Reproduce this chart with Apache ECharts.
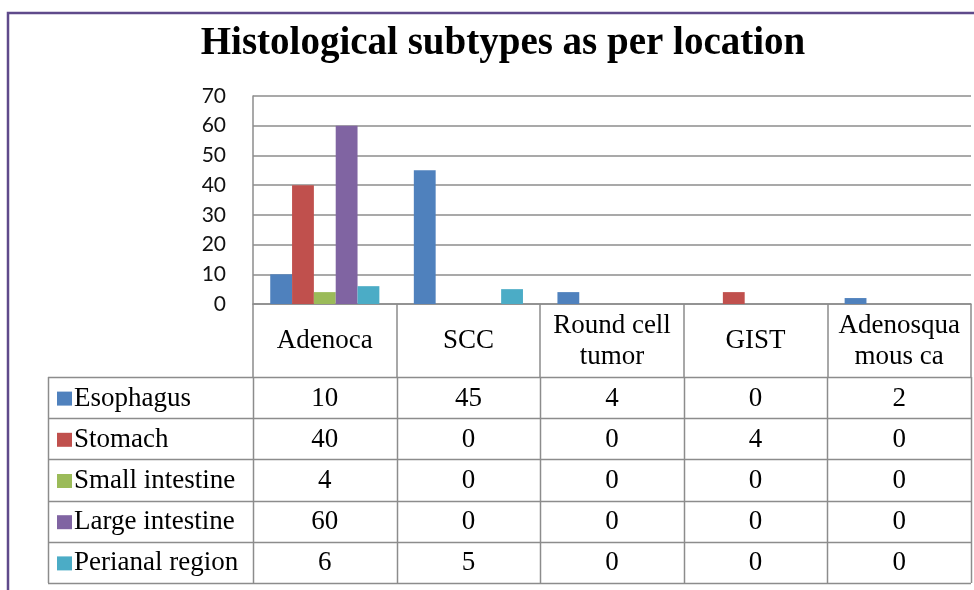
<!DOCTYPE html>
<html>
<head>
<meta charset="utf-8">
<script src="https://cdn.jsdelivr.net/npm/echarts@6/dist/echarts.min.js"></script>
<style>
    html, body { margin: 0; padding: 0; background: #fff; }
    #chart { width: 974px; height: 590px; }
</style>
</head>
<body>
<div id="chart"></div>
<script>
const categories = ['Adenoca', 'SCC', 'Round cell\ntumor', 'GIST', 'Adenosqua\nmous ca'];
const seriesNames = ['Esophagus', 'Stomach', 'Small intestine', 'Large intestine', 'Perianal region'];
const esophagus = [10, 45, 4, 0, 2];
const stomach = [40, 0, 0, 4, 0];
const smallIntestine = [4, 0, 0, 0, 0];
const largeIntestine = [60, 0, 0, 0, 0];
const perianal = [6, 5, 0, 0, 0];
const yTicks = [0, 10, 20, 30, 40, 50, 60, 70];

const seriesValues = [esophagus, stomach, smallIntestine, largeIntestine, perianal];
const colors = ['#4F81BD', '#C0504D', '#9BBB59', '#8064A2', '#4BACC6'];

// layout
const gridLeft = 253, gridRight = 971, gridTop = 96, gridBottom = 304;
const headerBottom = 377, tableBottom = 583, tableLeft = 48;
const lineColor = '#8c8c8c';
const serif = 'Liberation Serif, Times New Roman, serif';
const tableFontSize = 27;

const chart = echarts.init(document.getElementById('chart'));

const catW = (gridRight - gridLeft) / categories.length;
const rowH = (tableBottom - headerBottom) / seriesNames.length;
const graphics = [];

// outer purple frame (top and left)
graphics.push({
    type: 'polyline',
    shape: { points: [[8, 590], [8, 13], [974, 13]] },
    style: { stroke: '#5f4a8b', lineWidth: 2.5, fill: null }
});

// horizontal table lines
for (let r = 0; r <= seriesNames.length; r++) {
    const y = Math.round(headerBottom + r * rowH) + 0.5;
    graphics.push({
        type: 'line',
        shape: { x1: tableLeft, y1: y, x2: gridRight, y2: y },
        style: { stroke: lineColor, lineWidth: 1.5 }
    });
}
// vertical table lines
const vx = [tableLeft];
for (let c = 0; c <= categories.length; c++) vx.push(gridLeft + c * catW);
vx.forEach(function (x) {
    graphics.push({
        type: 'line',
        shape: { x1: Math.round(x) + 0.5, y1: headerBottom, x2: Math.round(x) + 0.5, y2: tableBottom },
        style: { stroke: lineColor, lineWidth: 1.5 }
    });
});

// main category axis (header row of the data table)
const xAxes = [{
    type: 'category',
    data: categories,
    axisLine: { show: true, lineStyle: { color: lineColor, width: 1.5 } },
    axisTick: {
        show: true,
        length: headerBottom - gridBottom,
        interval: 0,
        lineStyle: { color: lineColor, width: 1.5 }
    },
    axisLabel: {
        interval: 0,
        margin: 37,
        verticalAlign: 'middle',
        align: 'center',
        color: '#000',
        fontSize: tableFontSize,
        lineHeight: 31,
        fontFamily: serif
    }
}];

// one hidden axis per table row, carrying the values and the row name
seriesNames.forEach(function (name, r) {
    const cy = headerBottom + (r + 0.5) * rowH + 1;
    xAxes.push({
        type: 'category',
        data: categories,
        position: 'bottom',
        offset: cy - gridBottom,
        axisLine: { show: false },
        axisTick: { show: false },
        axisLabel: {
            interval: 0,
            margin: 0,
            verticalAlign: 'middle',
            align: 'center',
            color: '#000',
            fontSize: tableFontSize,
            fontFamily: serif,
            formatter: function (v, idx) { return String(seriesValues[r][idx]); }
        },
        name: '{sq|}{t|' + name + '}',
        nameLocation: 'start',
        nameGap: gridLeft - 57,
        nameTextStyle: {
            align: 'left',
            verticalAlign: 'middle',
            rich: {
                sq: { width: 15, height: 14, backgroundColor: colors[r] },
                t: { fontFamily: serif, fontSize: tableFontSize, color: '#000', padding: [0, 0, 0, 2] }
            }
        }
    });
});

const option = {
    animation: false,
    title: {
        text: 'Histological subtypes as per location',
        left: 498,
        top: 19,
        textAlign: 'center',
        textStyle: {
            fontFamily: serif,
            fontWeight: 'bold',
            fontSize: 39,
            color: '#000'
        }
    },
    grid: {
        left: gridLeft,
        right: 974 - gridRight,
        top: gridTop,
        bottom: 590 - gridBottom
    },
    xAxis: xAxes,
    yAxis: {
        type: 'value',
        min: yTicks[0],
        max: yTicks[yTicks.length - 1],
        interval: 10,
        axisLine: { show: true, lineStyle: { color: lineColor, width: 1.5 } },
        axisTick: { show: false },
        axisLabel: {
            margin: 27,
            color: '#111',
            fontSize: 21,
            fontFamily: 'Lato, Open Sans, sans-serif'
        },
        splitLine: { lineStyle: { color: lineColor, width: 1.5 } }
    },
    series: seriesNames.map(function (name, i) {
        return {
            name: name,
            type: 'bar',
            data: seriesValues[i],
            barGap: '0%',
            barCategoryGap: '24%',
            itemStyle: { color: colors[i] }
        };
    }),
    graphic: graphics
};

chart.setOption(option);
</script>
</body>
</html>
